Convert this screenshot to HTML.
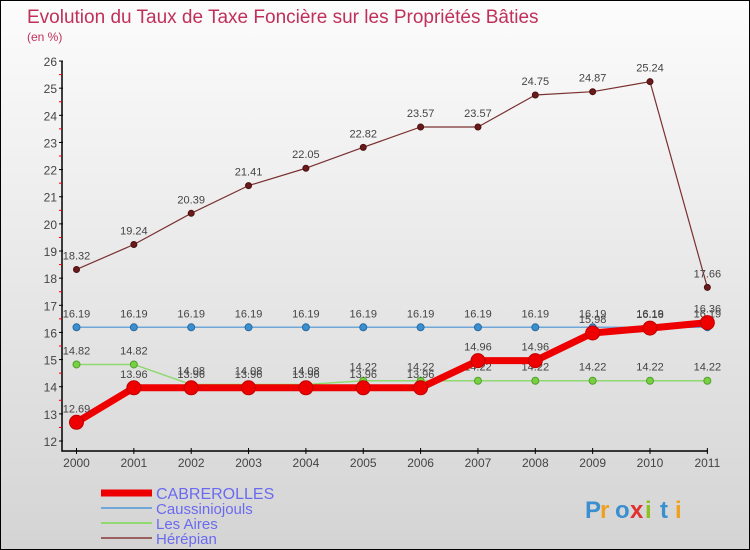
<!DOCTYPE html>
<html><head><meta charset="utf-8"><style>
body{margin:0}
#c{width:750px;height:550px;position:relative;background:linear-gradient(#fcfcfc,#d4d4d4);box-sizing:border-box;border:1px solid #000;overflow:hidden;font-family:"Liberation Sans",sans-serif}
</style></head><body>
<div id="c">
<svg id="s" width="750" height="550"></svg>
</div>
<script>
const years=["2000","2001","2002","2003","2004","2005","2006","2007","2008","2009","2010","2011"];
const cabrerolles=[12.69,13.96,13.96,13.96,13.96,13.96,13.96,14.96,14.96,15.98,16.16,16.36];
const caussiniojouls=[16.19,16.19,16.19,16.19,16.19,16.19,16.19,16.19,16.19,16.19,16.19,16.19];
const lesAires=[14.82,14.82,14.08,14.08,14.08,14.22,14.22,14.22,14.22,14.22,14.22,14.22];
const herepian=[18.32,19.24,20.39,21.41,22.05,22.82,23.57,23.57,24.75,24.87,25.24,17.66];
const yTicks=[12,13,14,15,16,17,18,19,20,21,22,23,24,25,26];
const NS="http://www.w3.org/2000/svg";
const s=document.getElementById('s');
const X=i=>75.5+i*57.35;
const Y=v=>440-(v-12)*27.14;
function el(t,a,p){const e=document.createElementNS(NS,t);for(const k in a)e.setAttribute(k,a[k]);(p||s).appendChild(e);return e;}
function tx(x,y,str,a){const e=el('text',Object.assign({x:x,y:y},a));e.textContent=str;return e;}
let t=tx(26,22,"Evolution du Taux de Taxe Foncière sur les Propriétés Bâties",{fill:"#c0305a","font-size":19});

t=tx(26,40,"(en %)",{fill:"#c0305a","font-size":12});

let ax=el('path',{d:"M61 60V450H707",stroke:"#000",fill:"none","stroke-width":1.5});

yTicks.forEach(v=>{
 el('line',{x1:58,x2:62,y1:Y(v),y2:Y(v),stroke:"#000"});
 if(v<26) el('line',{x1:58,x2:61,y1:Y(v+0.5),y2:Y(v+0.5),stroke:"#e00"});
 const l=tx(56,Y(v)+5,String(v),{"text-anchor":"end","font-size":12,fill:"#444"});
 
});
years.forEach((y,i)=>{
 el('line',{x1:X(i),x2:X(i),y1:447,y2:453,stroke:"#000"});
 const l=tx(X(i),466,y,{"text-anchor":"middle","font-size":12,fill:"#444"});
 
});
function series(name,data,color,w,r,dot,dotStroke){
 const g=el('g',{});
 
 el('polyline',{points:data.map((v,i)=>X(i)+","+Y(v)).join(" "),fill:"none",stroke:color,"stroke-width":w,"stroke-linejoin":"round"},g);
 data.forEach((v,i)=>{
  const c=el('circle',{cx:X(i),cy:Y(v),r:r,fill:dot,stroke:dotStroke,"stroke-width":1},g);
  
  tx(X(i),Y(v)-10,v.toFixed(2).replace(/0$/,''),{"text-anchor":"middle","font-size":11,fill:"#444"},g);
 });
}
series('herepian',herepian,"#7a3030",1.2,3,"#6a1a1a","#4a1010");
series('caussiniojouls',caussiniojouls,"#6fa8d8",1.5,3.5,"#3a8fd0","#2a6aa0");
series('les-aires',lesAires,"#90d870",1.5,3.5,"#78d040","#50a030");
series('cabrerolles',cabrerolles,"#ee0000",7,7,"#ee0000","#c00000");
series('caussiniojouls-pts',[],"#000",0,0,"#000","#000");
const leg=[["CABREROLLES","#ee0000",7],["Caussiniojouls","#6fa8d8",2],["Les Aires","#90d870",2],["Hérépian","#9a6060",2]];
leg.forEach((l,i)=>{
 const y=492+i*15;
 const g=el('g',{});
 
 el('line',{x1:100,x2:151,y1:y,y2:y,stroke:l[1],"stroke-width":l[2]},g);
 tx(155,y+6,l[0],{"font-size":i==0?16:15,fill:"#6a6af0"},g);
});
const b=el('g',{});

const cols=["#3a8fd0","#f0a020","#3a8fd0","#e03030","#90c020","#3a8fd0","#f0a020"];
"Proxiti".split("").forEach((ch,i)=>tx(584+i*15,517,ch,{"font-size":24,"font-weight":"bold",fill:cols[i]},b));
</script>
</body></html>
